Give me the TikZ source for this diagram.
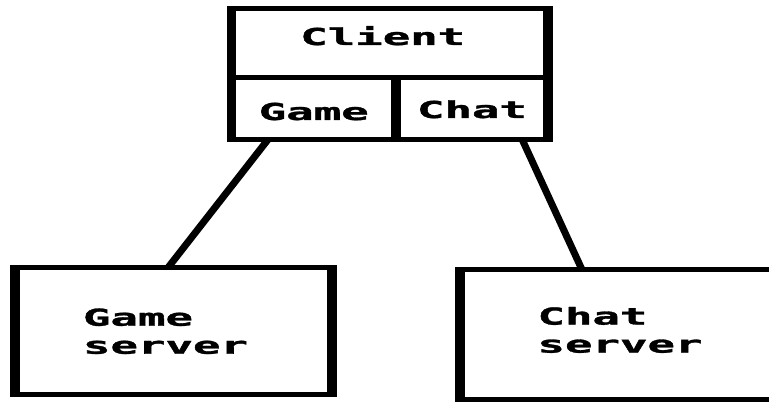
\documentclass[tikz,border=0pt]{standalone}
\usepackage{fontspec}
\usepackage{graphicx}
\setmonofont{DejaVu Sans Mono}[BoldFeatures={FakeBold=1.2}]
\usetikzlibrary{calc}
\newcommand{\stx}[1]{\scalebox{1.96}[1]{#1}}
\tikzset{
  box/.style={draw, line width=5pt, inner sep=0pt, outer sep=0pt, fill=white,
    font=\ttfamily\bfseries\fontsize{23.3}{28}\selectfont},
  vline/.style={line width=9.5pt, shorten <=-2.5pt, shorten >=-2.5pt},
  conn/.style={line width=7pt}
}
\begin{document}
\begin{tikzpicture}[x=1pt,y=-1pt]
\useasboundingbox[fill=white] (0,0) rectangle (769,403);
\clip (0,0) rectangle (769,403);
% client
\node[box, minimum width=316.5, minimum height=69, text height=17pt, text depth=13pt] (client) at (389.75,43) {\stx{Client}\hspace*{14pt}};
\node[box, minimum width=164.5, minimum height=62, text height=23pt, text depth=0pt] (game) at (313.75,108.5) {\stx{Game}};
\node[box, minimum width=152, minimum height=62, text height=19pt, text depth=0pt] (chat) at (472,108.5) {\stx{Chat}};
\draw[vline] (client.north west) -- (game.south west);
\draw[vline] (client.north east) -- (chat.south east);
\draw[vline] (game.north east) -- (game.south east);
% servers
\node[box, minimum width=317, minimum height=127.5, align=left] (gameserver) at (173.5,331.25) {\stx{Game}\\\stx{server}\hspace*{16pt}};
\node[box, minimum width=320, minimum height=130.5, align=left] (chatserver) at (620,334.75) {\stx{Chat}\\\stx{server}\rule[-10pt]{0pt}{10pt}};
\draw[vline] (gameserver.north west) -- (gameserver.south west);
\draw[vline] (gameserver.north east) -- (gameserver.south east);
\draw[vline] (chatserver.north west) -- (chatserver.south west);
% connectors
\draw[conn] ($(game.south west)!0.222!(game.south east)$) -- ($(gameserver.north west)!0.483!(gameserver.north east)$);
\draw[conn] ($(chat.south west)!0.83!(chat.south east)$) -- ($(chatserver.north west)!0.381!(chatserver.north east)$);
\end{tikzpicture}
\end{document}
